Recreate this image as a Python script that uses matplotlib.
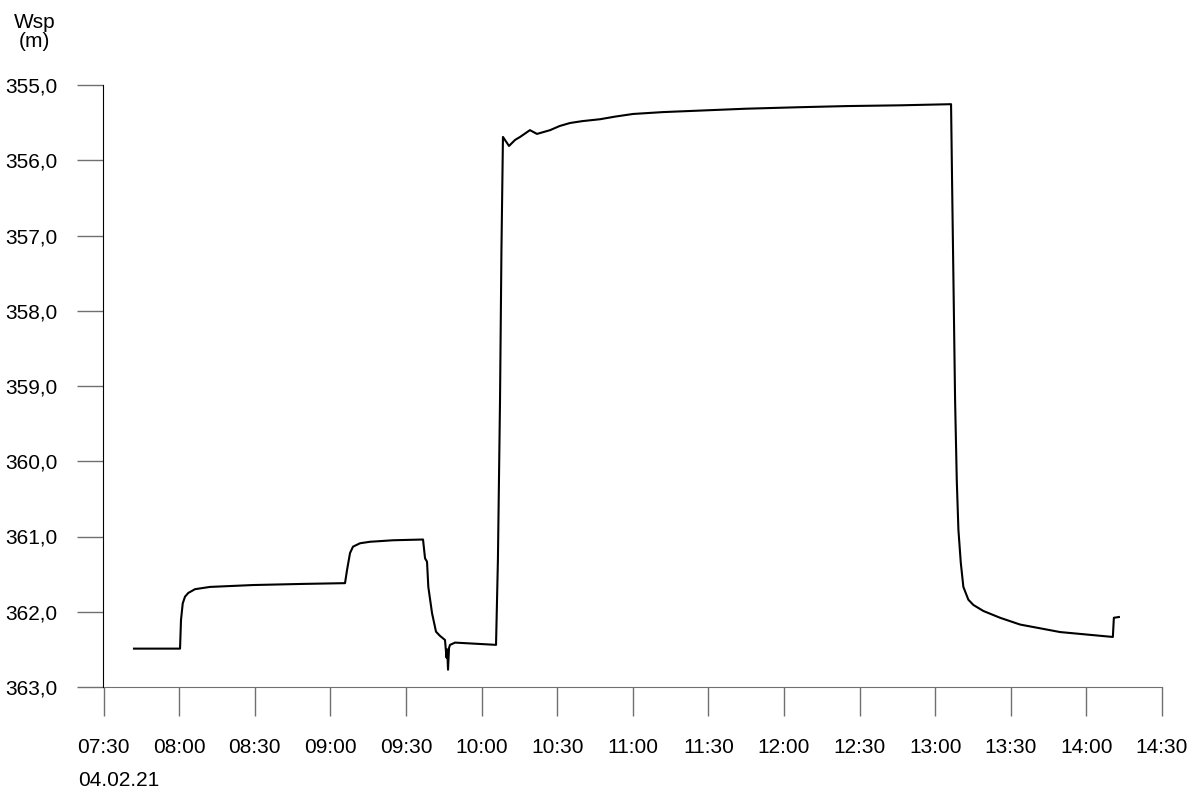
import matplotlib
matplotlib.use("Agg")
import matplotlib.pyplot as plt
import matplotlib.dates as mdates
import pandas as pd

plt.rcParams['font.family'] = ['Liberation Sans', 'DejaVu Sans']

date = "2021-02-04"
times = [
    "07:42:06", "08:00:22", "08:00:45", "08:01:26", "08:02:20", "08:03:39", "08:06:19",
    "08:12:16", "08:29:20", "08:49:10", "09:05:50", "09:06:38", "09:07:49", "09:09:00",
    "09:11:47", "09:15:45", "09:24:53", "09:36:47", "09:37:35", "09:38:22", "09:38:53",
    "09:40:22", "09:41:56", "09:43:30", "09:45:30", "09:46:06", "09:46:23", "09:46:42",
    "09:47:06", "09:47:30", "09:49:30", "10:05:45", "10:06:30", "10:07:20", "10:07:54",
    "10:08:30", "10:10:54", "10:13:18", "10:15:18", "10:19:12", "10:22:00", "10:27:12",
    "10:31:00", "10:35:06", "10:40:00", "10:47:00", "10:53:00", "11:00:06", "11:12:00",
    "11:26:42", "11:45:00", "12:06:24", "12:25:00", "12:46:06", "13:06:18",
    "13:06:50", "13:07:20", "13:07:54", "13:08:34", "13:09:13", "13:10:10", "13:11:11",
    "13:13:10", "13:15:10", "13:19:08", "13:25:45", "13:33:41", "13:49:36", "14:10:30",
    "14:10:54", "14:12:54",
]
wsp = [
    362.49, 362.49, 362.11, 361.89, 361.80, 361.75, 361.70,
    361.67, 361.645, 361.63, 361.62, 361.445, 361.22, 361.135,
    361.09, 361.07, 361.05, 361.04, 361.29, 361.335, 361.67,
    362.02, 362.265, 362.32, 362.375, 362.61, 362.50, 362.77,
    362.48, 362.44, 362.41, 362.44, 361.31, 359.19, 357.19,
    355.69, 355.81, 355.73, 355.69, 355.60, 355.65, 355.60,
    355.545, 355.505, 355.48, 355.455, 355.42, 355.385, 355.36,
    355.34, 355.315, 355.295, 355.28, 355.27, 355.255,
    356.60, 357.80, 359.19, 360.25, 360.91, 361.35, 361.67,
    361.84, 361.91, 361.99, 362.08, 362.17, 362.27, 362.335,
    362.08, 362.07,
]
y_ticks = [355.0, 356.0, 357.0, 358.0, 359.0, 360.0, 361.0, 362.0, 363.0]
x_start, x_end = "07:30", "14:30"

t = pd.to_datetime([f"{date} {s}" for s in times])

fig = plt.figure(figsize=(12, 7.96), dpi=100)
ax = fig.add_axes([103.5 / 1200, 109 / 796, (1162 - 103.5) / 1200, (687 - 85) / 796])
ax.plot(t, wsp, color='black', lw=1.5)

ax.set_xlim(pd.Timestamp(f"{date} {x_start}"), pd.Timestamp(f"{date} {x_end}"))
ax.set_ylim(363.0, 355.0)
ax.set_yticks(y_ticks)
ax.set_yticklabels([f"{v:.1f}".replace('.', ',') for v in y_ticks])
ax.xaxis.set_major_locator(mdates.MinuteLocator(byminute=[0, 30]))
ax.xaxis.set_major_formatter(mdates.DateFormatter('%H:%M'))

for s in ['top', 'right']:
    ax.spines[s].set_visible(False)
ax.spines['left'].set_color('black')
ax.spines['bottom'].set_color('#707070')
ax.tick_params(axis='y', direction='out', length=19, width=1, color='#707070',
               labelsize=15, pad=14)
ax.tick_params(axis='x', direction='out', length=21, width=1, color='#707070',
               labelsize=15, pad=16)

fig.text(78 / 1200, 1 - 781 / 796, "04.02.21", ha='left', va='center', fontsize=15)
fig.text(34.5 / 1200, 1 - 28 / 796, "Wsp", ha='center', va='baseline', fontsize=15)
fig.text(34.5 / 1200, 1 - 47 / 796, "(m)", ha='center', va='baseline', fontsize=15)

fig.savefig("out.png", dpi=100)
